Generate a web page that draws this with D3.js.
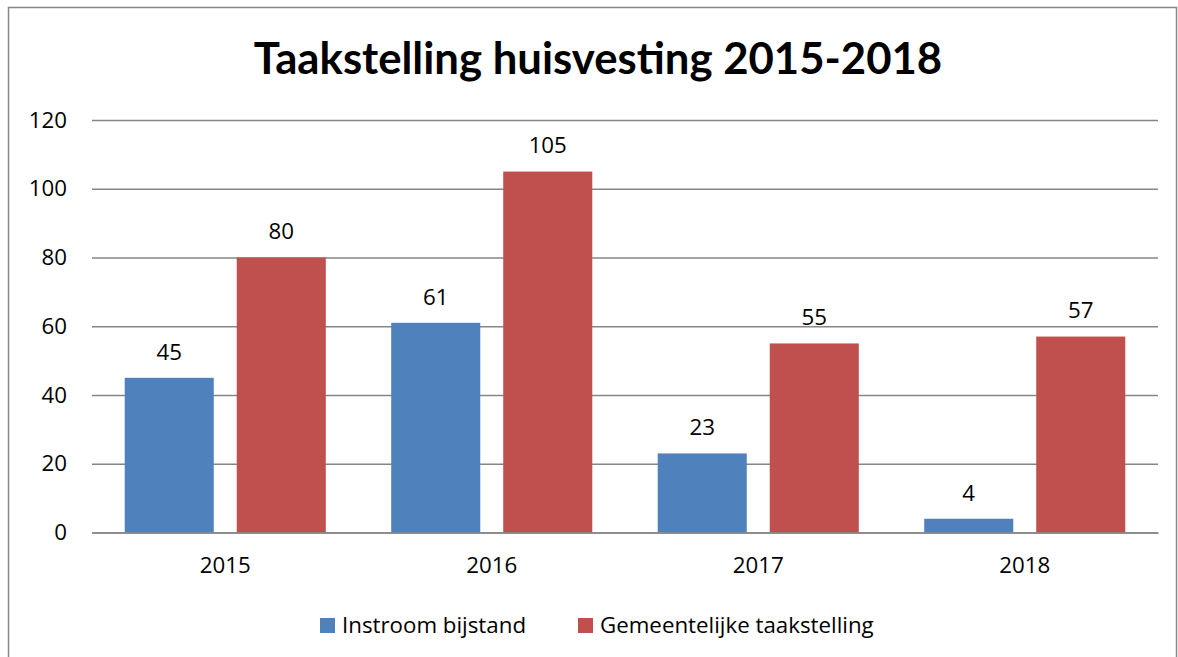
<!DOCTYPE html>
<html>
<head>
<meta charset="utf-8">
<script src="https://cdn.jsdelivr.net/npm/d3@7"></script>
<style>
  body { margin: 0; background: #fff; }
  svg { display: block; }
  text { font-family: "Open Sans", sans-serif; fill: #000; }
</style>
</head>
<body>
<svg id="plot"></svg>
<script>
const WIDTH = 1178;
const HEIGHT = 657;

const TITLE = 'Taakstelling huisvesting 2015-2018';
const YEARS = ['2015', '2016', '2017', '2018'];
const SERIES = ['Instroom bijstand', 'Gemeentelijke taakstelling'];
const INSTROOM = [45, 61, 23, 4];
const TAAKSTELLING = [80, 105, 55, 57];
const Y_TICKS = [0, 20, 40, 60, 80, 100, 120];
const COLORS = ['#4F81BD', '#C0504D'];

const plot = { left: 92, right: 1158, top: 120, bottom: 532.5 };
const FONT_SIZE = '22.3px';

let rows = YEARS.map((y, i) => ({ year: y, values: [INSTROOM[i], TAAKSTELLING[i]] }));

let svg = d3.select('#plot')
    .attr('width', WIDTH)
    .attr('height', HEIGHT);

// outer frame
svg.append('rect')
    .attr('x', 8.5).attr('y', 7.5)
    .attr('width', 1168).attr('height', 670)
    .attr('fill', 'none')
    .attr('stroke', '#868686')
    .attr('stroke-width', 1.5);

svg.append('text')
    .attr('x', 598).attr('y', 74)
    .attr('text-anchor', 'middle')
    .style('font-family', 'Lato, sans-serif')
    .style('font-weight', 'bold')
    .style('font-size', '43.7px')
    .text(TITLE);

let x0 = d3.scaleBand()
    .domain(YEARS)
    .range([plot.left, plot.right]);

let x1 = d3.scaleBand()
    .domain(d3.range(SERIES.length))
    .range([0, x0.bandwidth()])
    .paddingInner(0.205)
    .paddingOuter(0.292);

let y = d3.scaleLinear()
    .domain([0, 120])
    .range([plot.bottom, plot.top]);

// gridlines + y labels
let yAxis = svg.append('g')
    .attr('transform', `translate(${plot.left},0)`)
    .call(d3.axisLeft(y).tickValues(Y_TICKS).tickSize(-(plot.right - plot.left)).tickPadding(25));
yAxis.select('.domain').remove();
yAxis.selectAll('.tick line').attr('stroke', '#868686').attr('stroke-width', 1.3);
yAxis.selectAll('.tick text')
    .style('font-size', FONT_SIZE)
    .attr('fill', '#000');

// bars
let groups = svg.append('g')
    .selectAll('g')
    .data(rows)
    .enter().append('g')
        .attr('transform', d => `translate(${x0(d.year)},0)`);

groups.selectAll('rect')
    .data(d => d.values)
    .enter().append('rect')
        .attr('x', (d, i) => x1(i))
        .attr('y', d => y(d))
        .attr('width', x1.bandwidth())
        .attr('height', d => y(0) - y(d))
        .attr('fill', (d, i) => COLORS[i]);

groups.selectAll('text.val')
    .data(d => d.values)
    .enter().append('text')
        .attr('class', 'val')
        .attr('x', (d, i) => x1(i) + x1.bandwidth() / 2)
        .attr('y', d => y(d) - 26)
        .attr('dy', '0.35em')
        .attr('text-anchor', 'middle')
        .style('font-size', FONT_SIZE)
        .text(d => d);

// x axis
let xAxis = svg.append('g')
    .attr('transform', `translate(0,${plot.bottom})`)
    .call(d3.axisBottom(x0).tickSize(0).tickPadding(25));
xAxis.select('.domain').attr('stroke', '#868686').attr('stroke-width', 1.5);
xAxis.selectAll('.tick text')
    .style('font-size', FONT_SIZE)
    .attr('fill', '#000');

// legend
let legendX = [320, 578];
let legend = svg.append('g')
    .selectAll('g')
    .data(SERIES)
    .enter().append('g')
        .attr('transform', (d, i) => `translate(${legendX[i]},618)`);
legend.append('rect')
    .attr('width', 15).attr('height', 15)
    .attr('fill', (d, i) => COLORS[i]);
legend.append('text')
    .attr('x', 22).attr('y', 7.5)
    .attr('dy', '0.35em')
    .style('font-size', FONT_SIZE)
    .text(d => d);
</script>
</body>
</html>
